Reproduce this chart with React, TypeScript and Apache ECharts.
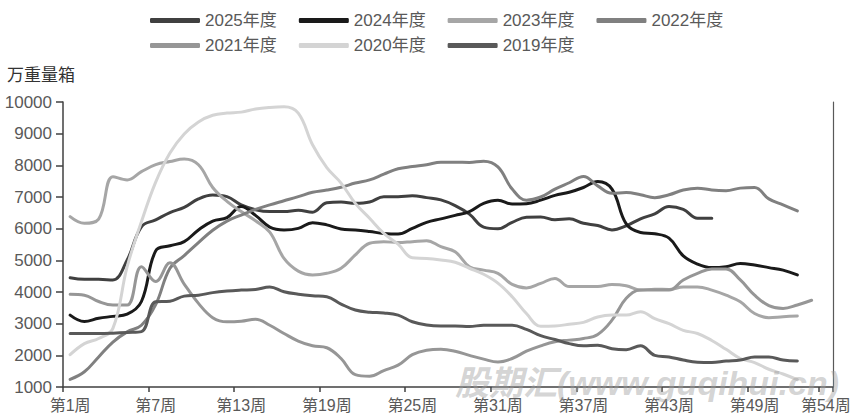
import React, { useEffect, useRef } from "react";
import * as echarts from "echarts";

const FONT = '"Liberation Sans", "Noto Sans CJK SC", sans-serif';

const weeks: string[] = [];
for (let i = 1; i <= 54; i++) weeks.push(`第${i}周`);

const seriesNames = ["2025年度", "2024年度", "2023年度", "2022年度", "2021年度", "2020年度", "2019年度"];
const seriesColors = ["#404040", "#1a1a1a", "#a6a6a6", "#808080", "#969696", "#d4d4d4", "#595959"];

const y2025 = [4450, 4400, 4400, 4380, 5010, 6060, 6280, 6510, 6670, 6940, 7060, 7010, 6750, 6600, 6540, 6540, 6580, 6520, 6820, 6840, 6800, 6840, 7010, 7010, 7040, 6980, 6910, 6730, 6460, 6050, 6000, 6200, 6360, 6370, 6280, 6310, 6170, 6100, 5960, 6090, 6310, 6470, 6700, 6610, 6330, 6330];
const y2024 = [3270, 3070, 3170, 3230, 3300, 3700, 5300, 5460, 5590, 5960, 6240, 6350, 6700, 6420, 6050, 5960, 6010, 6190, 6120, 5990, 5960, 5910, 5850, 5830, 6010, 6200, 6310, 6420, 6540, 6800, 6900, 6780, 6790, 6900, 7050, 7150, 7300, 7490, 7250, 6150, 5880, 5840, 5700, 5140, 4880, 4770, 4800, 4900, 4850, 4770, 4690, 4540];
const y2023 = [6380, 6170, 6300, 7640, 7540, 7800, 8020, 8120, 8200, 8020, 7300, 6860, 6540, 6250, 5890, 5060, 4660, 4540, 4590, 4750, 5170, 5540, 5590, 5560, 5590, 5620, 5430, 5270, 4800, 4690, 4590, 4240, 4130, 4270, 4430, 4170, 4170, 4170, 4240, 4200, 4060, 4090, 4080, 4160, 4160, 4060, 3900, 3690, 3320, 3190, 3220, 3240];
const y2022 = [1240, 1480, 1950, 2420, 2740, 2950, 3600, 4750, 5150, 5560, 5950, 6240, 6430, 6610, 6750, 6880, 7010, 7150, 7220, 7310, 7440, 7540, 7720, 7890, 7960, 8020, 8100, 8100, 8090, 8130, 7950, 7250, 6900, 7000, 7250, 7450, 7650, 7350, 7120, 7140, 7070, 6980, 7070, 7220, 7280, 7220, 7200, 7280, 7300, 6940, 6750, 6560];
const y2021 = [3930, 3900, 3700, 3590, 3590, 4800, 4330, 4920, 4250, 3640, 3190, 3060, 3080, 3140, 2950, 2690, 2450, 2300, 2240, 1900, 1390, 1340, 1520, 1690, 2020, 2160, 2190, 2130, 2000, 1880, 1790, 1900, 2130, 2300, 2430, 2480, 2530, 2660, 3110, 3800, 4060, 4060, 4060, 4380, 4590, 4730, 4730, 4380, 3900, 3570, 3480, 3590, 3740];
const y2020 = [2020, 2370, 2530, 2850, 4800, 6220, 7470, 8390, 8990, 9370, 9580, 9650, 9680, 9780, 9830, 9850, 9650, 8650, 7930, 7440, 6800, 6330, 5850, 5510, 5080, 5060, 5010, 4940, 4750, 4560, 4280, 3850, 3320, 2920, 2930, 2980, 3040, 3210, 3270, 3270, 3380, 3160, 3000, 2790, 2690, 2470, 2190, 1900, 1770, 1560, 1410, 1230];
const y2019 = [2690, 2690, 2690, 2700, 2720, 2750, 3690, 3710, 3870, 3900, 3980, 4030, 4060, 4080, 4160, 4010, 3930, 3880, 3850, 3620, 3430, 3360, 3340, 3270, 3060, 2960, 2930, 2930, 2910, 2950, 2950, 2950, 2820, 2620, 2500, 2370, 2300, 2320, 2210, 2180, 2300, 2000, 1950, 1850, 1780, 1770, 1820, 1850, 1950, 1950, 1850, 1820];

const allValues = [y2025, y2024, y2023, y2022, y2021, y2020, y2019];

const yTickLabels = ["1000", "2000", "3000", "4000", "5000", "6000", "7000", "8000", "9000", "10000"];

const showWeek = (idx: number) => idx % 6 === 0 || idx === 53;

export default function App() {
  const ref = useRef<HTMLDivElement>(null);

  useEffect(() => {
    if (!ref.current) return;
    const chart = echarts.init(ref.current, undefined, { renderer: "svg" });
    const legendBase = {
      icon: "roundRect",
      itemWidth: 50,
      itemHeight: 5,
      itemGap: 22,
      textStyle: { fontSize: 17, color: "#595959", fontFamily: FONT },
    };
    chart.setOption({
      animation: false,
      backgroundColor: "#ffffff",
      textStyle: { fontFamily: FONT },
      legend: [
        { ...legendBase, data: seriesNames.slice(0, 4), left: 145, top: 7 },
        { ...legendBase, data: seriesNames.slice(4), left: 145, top: 32 },
      ],
      grid: { left: 63, right: 23, top: 102, bottom: 33 },
      xAxis: {
        type: "category",
        data: weeks,
        boundaryGap: true,
        axisLine: { show: true, lineStyle: { color: "#404040", width: 1.5 } },
        axisTick: { show: true, length: 5, interval: (i: number) => showWeek(i), lineStyle: { color: "#404040", width: 1.5 } },
        axisLabel: {
          interval: (i: number) => showWeek(i),
          margin: 10,
          fontSize: 16,
          color: "#595959",
          fontFamily: FONT,
        },
        splitLine: { show: false },
      },
      yAxis: [
        {
          type: "value",
          min: 1000,
          max: 10000,
          interval: 1000,
          splitLine: { show: false },
          axisLine: { show: true, lineStyle: { color: "#404040", width: 1.5 } },
          axisTick: { show: true, length: 7, lineStyle: { color: "#404040", width: 1.5 } },
          axisLabel: {
            margin: 11,
            fontSize: 17,
            color: "#595959",
            fontFamily: FONT,
            formatter: (v: number) => yTickLabels[Math.round(v / 1000) - 1] ?? String(v),
          },
        },
        {
          type: "value",
          position: "right",
          min: 1000,
          max: 10000,
          interval: 1000,
          splitLine: { show: false },
          axisLine: { show: true, lineStyle: { color: "#595959", width: 1.2 } },
          axisTick: { show: false },
          axisLabel: { show: false },
        },
      ],
      graphic: [
        {
          type: "text",
          left: 7,
          top: 65,
          style: { text: "万重量箱", fontSize: 17, fill: "#333333", fontFamily: '"Noto Sans CJK SC", sans-serif' },
        },
        {
          type: "text",
          left: 455,
          top: 366,
          z: 100,
          silent: true,
          style: {
            text: "股期汇(www.guqihui.cn)",
            fontSize: 34,
            fontWeight: "bold",
            fontStyle: "italic",
            fill: "rgba(160,160,160,0.45)",
            fontFamily: FONT,
          },
        },
      ],
      series: seriesNames.map((name, i) => ({
        name,
        type: "line",
        data: allValues[i],
        yAxisIndex: 0,
        smooth: 0.4,
        symbol: "none",
        color: seriesColors[i],
        lineStyle: { color: seriesColors[i], width: 3, cap: "round", join: "round" },
        z: 2,
      })),
    });
    return () => chart.dispose();
  }, []);

  return <div ref={ref} style={{ position: "fixed", left: 0, top: 0, width: 856, height: 420, background: "#fff" }} />;
}
